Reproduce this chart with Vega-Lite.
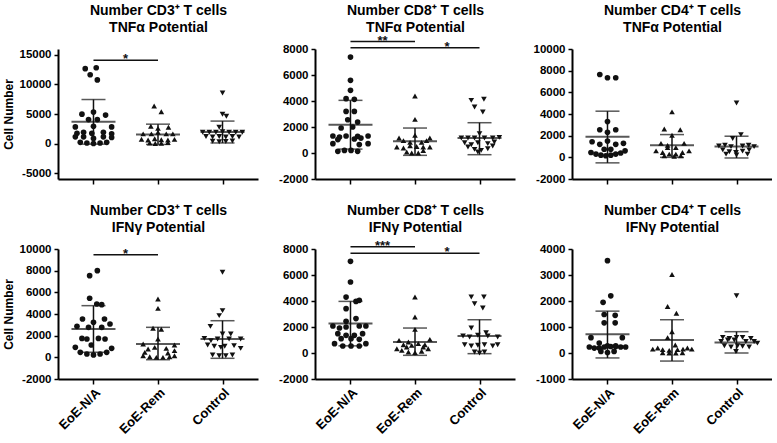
{
"$schema": "https://vega.github.io/schema/vega-lite/v6.json",
"background": "white",
"padding": {"left": 2, "top": 3, "right": 0, "bottom": 0},
"columns": 3,
"spacing": {"row": 70, "column": 57},
"bounds": "flush",
"datasets": {
"points": [
{"panel":1,"group":"EoE-N/A","value":12670,"slot":-1.5},{"panel":1,"group":"EoE-N/A","value":12820,"slot":0.5},{"panel":1,"group":"EoE-N/A","value":11640,"slot":-0.6},{"panel":1,"group":"EoE-N/A","value":10770,"slot":0.7},{"panel":1,"group":"EoE-N/A","value":4970,"slot":-2.1},{"panel":1,"group":"EoE-N/A","value":5330,"slot":0},{"panel":1,"group":"EoE-N/A","value":4820,"slot":2.2},{"panel":1,"group":"EoE-N/A","value":4050,"slot":-0.9},{"panel":1,"group":"EoE-N/A","value":4050,"slot":0.7},{"panel":1,"group":"EoE-N/A","value":2820,"slot":-3.3},{"panel":1,"group":"EoE-N/A","value":2920,"slot":0},{"panel":1,"group":"EoE-N/A","value":2820,"slot":3.3},{"panel":1,"group":"EoE-N/A","value":1740,"slot":-3},{"panel":1,"group":"EoE-N/A","value":1900,"slot":-1.8},{"panel":1,"group":"EoE-N/A","value":1740,"slot":-0.3},{"panel":1,"group":"EoE-N/A","value":1900,"slot":1.8},{"panel":1,"group":"EoE-N/A","value":1640,"slot":3.3},{"panel":1,"group":"EoE-N/A","value":1130,"slot":-3.3},{"panel":1,"group":"EoE-N/A","value":1130,"slot":-1.8},{"panel":1,"group":"EoE-N/A","value":870,"slot":0},{"panel":1,"group":"EoE-N/A","value":1130,"slot":1.8},{"panel":1,"group":"EoE-N/A","value":1030,"slot":3.3},{"panel":1,"group":"EoE-N/A","value":200,"slot":-2.4},{"panel":1,"group":"EoE-N/A","value":100,"slot":-1.2},{"panel":1,"group":"EoE-N/A","value":0,"slot":0},{"panel":1,"group":"EoE-N/A","value":100,"slot":1.2},{"panel":1,"group":"EoE-N/A","value":200,"slot":2.4},
{"panel":1,"group":"EoE-Rem","value":6360,"slot":-0.7},{"panel":1,"group":"EoE-Rem","value":5380,"slot":0.6},{"panel":1,"group":"EoE-Rem","value":2920,"slot":-1.3},{"panel":1,"group":"EoE-Rem","value":2770,"slot":1.9},{"panel":1,"group":"EoE-Rem","value":2560,"slot":0},{"panel":1,"group":"EoE-Rem","value":1640,"slot":-2.7},{"panel":1,"group":"EoE-Rem","value":1640,"slot":-1.2},{"panel":1,"group":"EoE-Rem","value":1900,"slot":0},{"panel":1,"group":"EoE-Rem","value":1640,"slot":1.5},{"panel":1,"group":"EoE-Rem","value":1640,"slot":2.7},{"panel":1,"group":"EoE-Rem","value":720,"slot":-3},{"panel":1,"group":"EoE-Rem","value":600,"slot":-1.8},{"panel":1,"group":"EoE-Rem","value":800,"slot":-0.6},{"panel":1,"group":"EoE-Rem","value":650,"slot":0.6},{"panel":1,"group":"EoE-Rem","value":600,"slot":1.8},{"panel":1,"group":"EoE-Rem","value":700,"slot":3},{"panel":1,"group":"EoE-Rem","value":100,"slot":-1.5},{"panel":1,"group":"EoE-Rem","value":0,"slot":-0.5},{"panel":1,"group":"EoE-Rem","value":50,"slot":0.6},{"panel":1,"group":"EoE-Rem","value":150,"slot":1.8},
{"panel":1,"group":"Control","value":8560,"slot":0},{"panel":1,"group":"Control","value":4970,"slot":0},{"panel":1,"group":"Control","value":4620,"slot":0.7},{"panel":1,"group":"Control","value":2770,"slot":-0.6},{"panel":1,"group":"Control","value":1900,"slot":-3.6},{"panel":1,"group":"Control","value":1900,"slot":-2.4},{"panel":1,"group":"Control","value":1900,"slot":-1.2},{"panel":1,"group":"Control","value":2000,"slot":0},{"panel":1,"group":"Control","value":1900,"slot":1.2},{"panel":1,"group":"Control","value":1900,"slot":2.4},{"panel":1,"group":"Control","value":1900,"slot":3.6},{"panel":1,"group":"Control","value":1200,"slot":-3},{"panel":1,"group":"Control","value":1100,"slot":-1.8},{"panel":1,"group":"Control","value":1200,"slot":-0.6},{"panel":1,"group":"Control","value":1100,"slot":0.6},{"panel":1,"group":"Control","value":1200,"slot":1.8},{"panel":1,"group":"Control","value":1100,"slot":3},{"panel":1,"group":"Control","value":400,"slot":-1.8},{"panel":1,"group":"Control","value":300,"slot":-0.6},{"panel":1,"group":"Control","value":350,"slot":0.6},{"panel":1,"group":"Control","value":420,"slot":1.8},

{"panel":2,"group":"EoE-N/A","value":7380,"slot":0},{"panel":2,"group":"EoE-N/A","value":5590,"slot":0},{"panel":2,"group":"EoE-N/A","value":4820,"slot":0},{"panel":2,"group":"EoE-N/A","value":4180,"slot":-0.8},{"panel":2,"group":"EoE-N/A","value":4130,"slot":0.7},{"panel":2,"group":"EoE-N/A","value":3200,"slot":-0.8},{"panel":2,"group":"EoE-N/A","value":3200,"slot":0.7},{"panel":2,"group":"EoE-N/A","value":2560,"slot":-0.5},{"panel":2,"group":"EoE-N/A","value":2380,"slot":1.3},{"panel":2,"group":"EoE-N/A","value":1920,"slot":-1.7},{"panel":2,"group":"EoE-N/A","value":2000,"slot":0.4},{"panel":2,"group":"EoE-N/A","value":1310,"slot":-3.2},{"panel":2,"group":"EoE-N/A","value":1230,"slot":-2},{"panel":2,"group":"EoE-N/A","value":1310,"slot":-0.8},{"panel":2,"group":"EoE-N/A","value":1280,"slot":1.3},{"panel":2,"group":"EoE-N/A","value":1310,"slot":3.2},{"panel":2,"group":"EoE-N/A","value":1030,"slot":-2.3},{"panel":2,"group":"EoE-N/A","value":1080,"slot":0.7},{"panel":2,"group":"EoE-N/A","value":1150,"slot":1.9},{"panel":2,"group":"EoE-N/A","value":720,"slot":-3.2},{"panel":2,"group":"EoE-N/A","value":650,"slot":1.6},{"panel":2,"group":"EoE-N/A","value":720,"slot":3.2},{"panel":2,"group":"EoE-N/A","value":130,"slot":-2.3},{"panel":2,"group":"EoE-N/A","value":200,"slot":-1.1},{"panel":2,"group":"EoE-N/A","value":200,"slot":0.1},{"panel":2,"group":"EoE-N/A","value":130,"slot":1.3},
{"panel":2,"group":"EoE-Rem","value":4380,"slot":0},{"panel":2,"group":"EoE-Rem","value":2590,"slot":0},{"panel":2,"group":"EoE-Rem","value":1360,"slot":0},{"panel":2,"group":"EoE-Rem","value":1150,"slot":-2.9},{"panel":2,"group":"EoE-Rem","value":1150,"slot":2.7},{"panel":2,"group":"EoE-Rem","value":950,"slot":-2.1},{"panel":2,"group":"EoE-Rem","value":820,"slot":-0.9},{"panel":2,"group":"EoE-Rem","value":820,"slot":1.2},{"panel":2,"group":"EoE-Rem","value":950,"slot":2.1},{"panel":2,"group":"EoE-Rem","value":460,"slot":-3.3},{"panel":2,"group":"EoE-Rem","value":380,"slot":-2.1},{"panel":2,"group":"EoE-Rem","value":560,"slot":-0.9},{"panel":2,"group":"EoE-Rem","value":500,"slot":0.3},{"panel":2,"group":"EoE-Rem","value":460,"slot":1.5},{"panel":2,"group":"EoE-Rem","value":460,"slot":2.7},{"panel":2,"group":"EoE-Rem","value":80,"slot":-1.5},{"panel":2,"group":"EoE-Rem","value":0,"slot":-0.6},{"panel":2,"group":"EoE-Rem","value":0,"slot":0.6},{"panel":2,"group":"EoE-Rem","value":180,"slot":1.5},
{"panel":2,"group":"Control","value":4050,"slot":-1.5},{"panel":2,"group":"Control","value":4130,"slot":0.8},{"panel":2,"group":"Control","value":3540,"slot":-0.9},{"panel":2,"group":"Control","value":3150,"slot":0.6},{"panel":2,"group":"Control","value":1490,"slot":0},{"panel":2,"group":"Control","value":1150,"slot":-3.3},{"panel":2,"group":"Control","value":1150,"slot":-2.1},{"panel":2,"group":"Control","value":1150,"slot":-0.9},{"panel":2,"group":"Control","value":1150,"slot":0.9},{"panel":2,"group":"Control","value":1150,"slot":2.4},{"panel":2,"group":"Control","value":1200,"slot":3.6},{"panel":2,"group":"Control","value":790,"slot":-2.7},{"panel":2,"group":"Control","value":640,"slot":-1.5},{"panel":2,"group":"Control","value":790,"slot":-0.3},{"panel":2,"group":"Control","value":720,"slot":1.5},{"panel":2,"group":"Control","value":850,"slot":2.7},{"panel":2,"group":"Control","value":460,"slot":-2.1},{"panel":2,"group":"Control","value":280,"slot":-0.9},{"panel":2,"group":"Control","value":200,"slot":0.3},{"panel":2,"group":"Control","value":330,"slot":1.5},{"panel":2,"group":"Control","value":540,"slot":2.4},{"panel":2,"group":"Control","value":80,"slot":-0.3},

{"panel":3,"group":"EoE-N/A","value":7650,"slot":-1.4},{"panel":3,"group":"EoE-N/A","value":7350,"slot":0},{"panel":3,"group":"EoE-N/A","value":7350,"slot":1.5},{"panel":3,"group":"EoE-N/A","value":3300,"slot":0},{"panel":3,"group":"EoE-N/A","value":2550,"slot":-1.4},{"panel":3,"group":"EoE-N/A","value":2310,"slot":0},{"panel":3,"group":"EoE-N/A","value":2550,"slot":1.5},{"panel":3,"group":"EoE-N/A","value":1440,"slot":-2.8},{"panel":3,"group":"EoE-N/A","value":1200,"slot":-1.4},{"panel":3,"group":"EoE-N/A","value":1500,"slot":0},{"panel":3,"group":"EoE-N/A","value":1200,"slot":1.5},{"panel":3,"group":"EoE-N/A","value":1290,"slot":2.9},{"panel":3,"group":"EoE-N/A","value":750,"slot":-0.6},{"panel":3,"group":"EoE-N/A","value":750,"slot":0.6},{"panel":3,"group":"EoE-N/A","value":450,"slot":-3},{"panel":3,"group":"EoE-N/A","value":300,"slot":-2.1},{"panel":3,"group":"EoE-N/A","value":200,"slot":-1.2},{"panel":3,"group":"EoE-N/A","value":150,"slot":-0.3},{"panel":3,"group":"EoE-N/A","value":200,"slot":0.6},{"panel":3,"group":"EoE-N/A","value":300,"slot":1.5},{"panel":3,"group":"EoE-N/A","value":400,"slot":2.4},{"panel":3,"group":"EoE-N/A","value":600,"slot":3.2},
{"panel":3,"group":"EoE-Rem","value":4200,"slot":0},{"panel":3,"group":"EoE-Rem","value":2610,"slot":-1.4},{"panel":3,"group":"EoE-Rem","value":2550,"slot":1.5},{"panel":3,"group":"EoE-Rem","value":2040,"slot":0},{"panel":3,"group":"EoE-Rem","value":1290,"slot":-2},{"panel":3,"group":"EoE-Rem","value":1100,"slot":-0.8},{"panel":3,"group":"EoE-Rem","value":1290,"slot":2.2},{"panel":3,"group":"EoE-Rem","value":600,"slot":-2.9},{"panel":3,"group":"EoE-Rem","value":450,"slot":-1.7},{"panel":3,"group":"EoE-Rem","value":300,"slot":-0.5},{"panel":3,"group":"EoE-Rem","value":300,"slot":0.7},{"panel":3,"group":"EoE-Rem","value":450,"slot":1.9},{"panel":3,"group":"EoE-Rem","value":600,"slot":3.1},{"panel":3,"group":"EoE-Rem","value":900,"slot":-0.8},{"panel":3,"group":"EoE-Rem","value":900,"slot":0.7},{"panel":3,"group":"EoE-Rem","value":150,"slot":-1.4},{"panel":3,"group":"EoE-Rem","value":90,"slot":0.4},{"panel":3,"group":"EoE-Rem","value":150,"slot":1.6},
{"panel":3,"group":"Control","value":5010,"slot":0},{"panel":3,"group":"Control","value":2100,"slot":0.8},{"panel":3,"group":"Control","value":1740,"slot":-0.7},{"panel":3,"group":"Control","value":1050,"slot":-3.2},{"panel":3,"group":"Control","value":1110,"slot":-2.1},{"panel":3,"group":"Control","value":990,"slot":-1},{"panel":3,"group":"Control","value":1050,"slot":1.1},{"panel":3,"group":"Control","value":1110,"slot":2.2},{"panel":3,"group":"Control","value":990,"slot":3.2},{"panel":3,"group":"Control","value":690,"slot":-2.5},{"panel":3,"group":"Control","value":510,"slot":-1.3},{"panel":3,"group":"Control","value":450,"slot":-0.1},{"panel":3,"group":"Control","value":570,"slot":1.1},{"panel":3,"group":"Control","value":690,"slot":2.3},{"panel":3,"group":"Control","value":210,"slot":0},{"panel":3,"group":"Control","value":300,"slot":-1.9},{"panel":3,"group":"Control","value":300,"slot":2},

{"panel":4,"group":"EoE-N/A","value":7540,"slot":-0.7},{"panel":4,"group":"EoE-N/A","value":8000,"slot":0.7},{"panel":4,"group":"EoE-N/A","value":5450,"slot":-0.7},{"panel":4,"group":"EoE-N/A","value":4920,"slot":0.6},{"panel":4,"group":"EoE-N/A","value":4860,"slot":1.5},{"panel":4,"group":"EoE-N/A","value":3540,"slot":-2},{"panel":4,"group":"EoE-N/A","value":3230,"slot":0},{"panel":4,"group":"EoE-N/A","value":3540,"slot":2},{"panel":4,"group":"EoE-N/A","value":2860,"slot":-3},{"panel":4,"group":"EoE-N/A","value":2770,"slot":-0.9},{"panel":4,"group":"EoE-N/A","value":2770,"slot":1.5},{"panel":4,"group":"EoE-N/A","value":3080,"slot":3},{"panel":4,"group":"EoE-N/A","value":1750,"slot":-2.1},{"panel":4,"group":"EoE-N/A","value":1690,"slot":-1.2},{"panel":4,"group":"EoE-N/A","value":1750,"slot":0.9},{"panel":4,"group":"EoE-N/A","value":1690,"slot":2.1},{"panel":4,"group":"EoE-N/A","value":920,"slot":-3.3},{"panel":4,"group":"EoE-N/A","value":1140,"slot":-0.4},{"panel":4,"group":"EoE-N/A","value":830,"slot":3.3},{"panel":4,"group":"EoE-N/A","value":460,"slot":-2.4},{"panel":4,"group":"EoE-N/A","value":310,"slot":-1.2},{"panel":4,"group":"EoE-N/A","value":220,"slot":0},{"panel":4,"group":"EoE-N/A","value":310,"slot":1.2},{"panel":4,"group":"EoE-N/A","value":460,"slot":2.4},
{"panel":4,"group":"EoE-Rem","value":5390,"slot":0},{"panel":4,"group":"EoE-Rem","value":4520,"slot":0},{"panel":4,"group":"EoE-Rem","value":2680,"slot":-0.9},{"panel":4,"group":"EoE-Rem","value":2590,"slot":0.6},{"panel":4,"group":"EoE-Rem","value":1690,"slot":0},{"panel":4,"group":"EoE-Rem","value":1230,"slot":-2.7},{"panel":4,"group":"EoE-Rem","value":1140,"slot":3},{"panel":4,"group":"EoE-Rem","value":770,"slot":-1.8},{"panel":4,"group":"EoE-Rem","value":920,"slot":-0.6},{"panel":4,"group":"EoE-Rem","value":830,"slot":1.5},{"panel":4,"group":"EoE-Rem","value":620,"slot":3},{"panel":4,"group":"EoE-Rem","value":460,"slot":-2.4},{"panel":4,"group":"EoE-Rem","value":400,"slot":1.8},{"panel":4,"group":"EoE-Rem","value":150,"slot":-2.7},{"panel":4,"group":"EoE-Rem","value":50,"slot":-1.5},{"panel":4,"group":"EoE-Rem","value":0,"slot":-0.3},{"panel":4,"group":"EoE-Rem","value":0,"slot":0.9},{"panel":4,"group":"EoE-Rem","value":50,"slot":2.1},{"panel":4,"group":"EoE-Rem","value":150,"slot":3},
{"panel":4,"group":"Control","value":7850,"slot":0},{"panel":4,"group":"Control","value":4310,"slot":0},{"panel":4,"group":"Control","value":3850,"slot":-0.6},{"panel":4,"group":"Control","value":2860,"slot":-2.2},{"panel":4,"group":"Control","value":2150,"slot":1.5},{"panel":4,"group":"Control","value":2150,"slot":0},{"panel":4,"group":"Control","value":1750,"slot":-3.3},{"panel":4,"group":"Control","value":1540,"slot":-2.1},{"panel":4,"group":"Control","value":1690,"slot":-0.9},{"panel":4,"group":"Control","value":1690,"slot":1.2},{"panel":4,"group":"Control","value":1690,"slot":3.3},{"panel":4,"group":"Control","value":1140,"slot":-2.7},{"panel":4,"group":"Control","value":1020,"slot":-1.5},{"panel":4,"group":"Control","value":920,"slot":-0.3},{"panel":4,"group":"Control","value":1020,"slot":0.4},{"panel":4,"group":"Control","value":1080,"slot":2.1},{"panel":4,"group":"Control","value":830,"slot":3.3},{"panel":4,"group":"Control","value":215,"slot":-1.8},{"panel":4,"group":"Control","value":150,"slot":-0.6},{"panel":4,"group":"Control","value":150,"slot":0.6},{"panel":4,"group":"Control","value":215,"slot":1.8},

{"panel":5,"group":"EoE-N/A","value":7050,"slot":0},{"panel":5,"group":"EoE-N/A","value":5460,"slot":0},{"panel":5,"group":"EoE-N/A","value":4300,"slot":-0.8},{"panel":5,"group":"EoE-N/A","value":3970,"slot":1},{"panel":5,"group":"EoE-N/A","value":4050,"slot":1.6},{"panel":5,"group":"EoE-N/A","value":3410,"slot":-0.8},{"panel":5,"group":"EoE-N/A","value":2440,"slot":-0.8},{"panel":5,"group":"EoE-N/A","value":2650,"slot":1},{"panel":5,"group":"EoE-N/A","value":2080,"slot":-3.2},{"panel":5,"group":"EoE-N/A","value":1920,"slot":-2},{"panel":5,"group":"EoE-N/A","value":2000,"slot":-0.8},{"panel":5,"group":"EoE-N/A","value":2080,"slot":1.6},{"panel":5,"group":"EoE-N/A","value":2080,"slot":2.8},{"panel":5,"group":"EoE-N/A","value":1490,"slot":-2.3},{"panel":5,"group":"EoE-N/A","value":1360,"slot":-0.8},{"panel":5,"group":"EoE-N/A","value":1360,"slot":0.7},{"panel":5,"group":"EoE-N/A","value":1490,"slot":2.2},{"panel":5,"group":"EoE-N/A","value":1100,"slot":-1.7},{"panel":5,"group":"EoE-N/A","value":1100,"slot":0.1},{"panel":5,"group":"EoE-N/A","value":1050,"slot":1.6},{"panel":5,"group":"EoE-N/A","value":720,"slot":-2.9},{"panel":5,"group":"EoE-N/A","value":540,"slot":-1.4},{"panel":5,"group":"EoE-N/A","value":540,"slot":0.1},{"panel":5,"group":"EoE-N/A","value":540,"slot":1.6},{"panel":5,"group":"EoE-N/A","value":720,"slot":2.8},
{"panel":5,"group":"EoE-Rem","value":4310,"slot":0},{"panel":5,"group":"EoE-Rem","value":2770,"slot":0},{"panel":5,"group":"EoE-Rem","value":1820,"slot":0},{"panel":5,"group":"EoE-Rem","value":970,"slot":-2.9},{"panel":5,"group":"EoE-Rem","value":850,"slot":-1.2},{"panel":5,"group":"EoE-Rem","value":1050,"slot":2.7},{"panel":5,"group":"EoE-Rem","value":640,"slot":-2.1},{"panel":5,"group":"EoE-Rem","value":590,"slot":-0.6},{"panel":5,"group":"EoE-Rem","value":720,"slot":0.6},{"panel":5,"group":"EoE-Rem","value":640,"slot":1.8},{"panel":5,"group":"EoE-Rem","value":330,"slot":-3.3},{"panel":5,"group":"EoE-Rem","value":200,"slot":-2.4},{"panel":5,"group":"EoE-Rem","value":80,"slot":-1.2},{"panel":5,"group":"EoE-Rem","value":30,"slot":0},{"panel":5,"group":"EoE-Rem","value":130,"slot":1.2},{"panel":5,"group":"EoE-Rem","value":330,"slot":2.4},{"panel":5,"group":"EoE-Rem","value":460,"slot":-1.5},{"panel":5,"group":"EoE-Rem","value":460,"slot":1.5},
{"panel":5,"group":"Control","value":4310,"slot":-1.5},{"panel":5,"group":"Control","value":4310,"slot":0.8},{"panel":5,"group":"Control","value":3790,"slot":-0.9},{"panel":5,"group":"Control","value":3460,"slot":0.6},{"panel":5,"group":"Control","value":1920,"slot":-1.5},{"panel":5,"group":"Control","value":1560,"slot":1.2},{"panel":5,"group":"Control","value":1310,"slot":-3},{"panel":5,"group":"Control","value":1230,"slot":-1.8},{"panel":5,"group":"Control","value":1360,"slot":-0.3},{"panel":5,"group":"Control","value":1310,"slot":1.5},{"panel":5,"group":"Control","value":1230,"slot":3.3},{"panel":5,"group":"Control","value":640,"slot":-2.7},{"panel":5,"group":"Control","value":540,"slot":-1.5},{"panel":5,"group":"Control","value":600,"slot":-0.3},{"panel":5,"group":"Control","value":640,"slot":0.9},{"panel":5,"group":"Control","value":540,"slot":2.4},{"panel":5,"group":"Control","value":640,"slot":3.3},{"panel":5,"group":"Control","value":80,"slot":-0.9},{"panel":5,"group":"Control","value":0,"slot":0},{"panel":5,"group":"Control","value":80,"slot":0.9},

{"panel":6,"group":"EoE-N/A","value":3550,"slot":0},{"panel":6,"group":"EoE-N/A","value":2200,"slot":0.6},{"panel":6,"group":"EoE-N/A","value":1950,"slot":-0.8},{"panel":6,"group":"EoE-N/A","value":1480,"slot":-0.6},{"panel":6,"group":"EoE-N/A","value":1450,"slot":1.4},{"panel":6,"group":"EoE-N/A","value":1160,"slot":-0.6},{"panel":6,"group":"EoE-N/A","value":1160,"slot":1.4},{"panel":6,"group":"EoE-N/A","value":590,"slot":-3},{"panel":6,"group":"EoE-N/A","value":590,"slot":2.7},{"panel":6,"group":"EoE-N/A","value":380,"slot":-1.5},{"panel":6,"group":"EoE-N/A","value":280,"slot":0},{"panel":6,"group":"EoE-N/A","value":250,"slot":1.5},{"panel":6,"group":"EoE-N/A","value":230,"slot":-3.3},{"panel":6,"group":"EoE-N/A","value":190,"slot":-2.4},{"panel":6,"group":"EoE-N/A","value":190,"slot":-1.5},{"panel":6,"group":"EoE-N/A","value":230,"slot":-0.6},{"panel":6,"group":"EoE-N/A","value":250,"slot":0.6},{"panel":6,"group":"EoE-N/A","value":280,"slot":1.5},{"panel":6,"group":"EoE-N/A","value":230,"slot":2.4},{"panel":6,"group":"EoE-N/A","value":230,"slot":3.3},{"panel":6,"group":"EoE-N/A","value":60,"slot":-1.2},{"panel":6,"group":"EoE-N/A","value":20,"slot":0},{"panel":6,"group":"EoE-N/A","value":60,"slot":1.2},
{"panel":6,"group":"EoE-Rem","value":3020,"slot":0},{"panel":6,"group":"EoE-Rem","value":1790,"slot":-0.8},{"panel":6,"group":"EoE-Rem","value":1530,"slot":0.8},{"panel":6,"group":"EoE-Rem","value":820,"slot":0},{"panel":6,"group":"EoE-Rem","value":590,"slot":-0.8},{"panel":6,"group":"EoE-Rem","value":310,"slot":0.6},{"panel":6,"group":"EoE-Rem","value":150,"slot":-3.5},{"panel":6,"group":"EoE-Rem","value":190,"slot":-2.6},{"panel":6,"group":"EoE-Rem","value":130,"slot":-1.7},{"panel":6,"group":"EoE-Rem","value":100,"slot":-0.5},{"panel":6,"group":"EoE-Rem","value":130,"slot":1},{"panel":6,"group":"EoE-Rem","value":150,"slot":2},{"panel":6,"group":"EoE-Rem","value":190,"slot":2.8},{"panel":6,"group":"EoE-Rem","value":150,"slot":3.6},{"panel":6,"group":"EoE-Rem","value":10,"slot":-1.7},{"panel":6,"group":"EoE-Rem","value":0,"slot":-0.5},{"panel":6,"group":"EoE-Rem","value":0,"slot":0.7},{"panel":6,"group":"EoE-Rem","value":10,"slot":1.9},
{"panel":6,"group":"Control","value":2200,"slot":0},{"panel":6,"group":"Control","value":600,"slot":-2.5},{"panel":6,"group":"Control","value":560,"slot":-1.3},{"panel":6,"group":"Control","value":600,"slot":0},{"panel":6,"group":"Control","value":600,"slot":1.1},{"panel":6,"group":"Control","value":560,"slot":2.6},{"panel":6,"group":"Control","value":440,"slot":-2.8},{"panel":6,"group":"Control","value":500,"slot":-1.6},{"panel":6,"group":"Control","value":500,"slot":-0.4},{"panel":6,"group":"Control","value":440,"slot":1.7},{"panel":6,"group":"Control","value":440,"slot":3.2},{"panel":6,"group":"Control","value":380,"slot":3.8},{"panel":6,"group":"Control","value":280,"slot":-2.2},{"panel":6,"group":"Control","value":230,"slot":-1},{"panel":6,"group":"Control","value":280,"slot":0.2},{"panel":6,"group":"Control","value":260,"slot":1.1},{"panel":6,"group":"Control","value":230,"slot":2.3},{"panel":6,"group":"Control","value":60,"slot":-0.1}
],
"summary": [
{"panel":1,"group":"EoE-N/A","mean":3700,"lo":-100,"hi":7450},{"panel":1,"group":"EoE-Rem","mean":1550,"lo":-150,"hi":3280},{"panel":1,"group":"Control","mean":1950,"lo":100,"hi":3800},
{"panel":2,"group":"EoE-N/A","mean":2170,"lo":300,"hi":4050},{"panel":2,"group":"EoE-Rem","mean":900,"lo":-180,"hi":1920},{"panel":2,"group":"Control","mean":1150,"lo":-130,"hi":2330},
{"panel":3,"group":"EoE-N/A","mean":1890,"lo":-510,"hi":4260},{"panel":3,"group":"EoE-Rem","mean":1110,"lo":0,"hi":2100},{"panel":3,"group":"Control","mean":990,"lo":-60,"hi":1950},
{"panel":4,"group":"EoE-N/A","mean":2620,"lo":470,"hi":4770},{"panel":4,"group":"EoE-Rem","mean":1230,"lo":-220,"hi":2770},{"panel":4,"group":"Control","mean":1690,"lo":-90,"hi":3380},
{"panel":5,"group":"EoE-N/A","mean":2260,"lo":550,"hi":3970},{"panel":5,"group":"EoE-Rem","mean":850,"lo":-180,"hi":1920},{"panel":5,"group":"Control","mean":1310,"lo":-50,"hi":2560},
{"panel":6,"group":"EoE-N/A","mean":720,"lo":-190,"hi":1610},{"panel":6,"group":"EoE-Rem","mean":500,"lo":-310,"hi":1280},{"panel":6,"group":"Control","mean":400,"lo":0,"hi":820}
],
"sig": [
{"panel":1,"from":"EoE-N/A","to":"EoE-Rem","at":"EoE-N/A","y":14080,"label":"*"},
{"panel":2,"from":"EoE-N/A","to":"EoE-Rem","at":"EoE-N/A","y":8570,"label":"**"},
{"panel":2,"from":"EoE-N/A","to":"Control","at":"EoE-Rem","y":8100,"label":"*"},
{"panel":4,"from":"EoE-N/A","to":"EoE-Rem","at":"EoE-N/A","y":9475,"label":"*"},
{"panel":5,"from":"EoE-N/A","to":"EoE-Rem","at":"EoE-N/A","y":8180,"label":"***"},
{"panel":5,"from":"EoE-N/A","to":"Control","at":"EoE-Rem","y":7670,"label":"*"}
]
},
"concat": [
{"width":200,"height":130,"resolve":{"axis":{"x":"independent","y":"independent"}},
"layer":[
{"data":{"name":"points"},"transform":[{"filter":"datum.panel == 1"}],"mark":{"type":"point","filled":true,"size":32,"opacity":1,"color":"#111"},
"encoding":{"x":{"field":"group","type":"nominal","title":null,"scale":{"type":"point","domain":["EoE-N/A","EoE-Rem","Control"],"padding":0.55},"axis":{"orient":"bottom","labels":false}},
"xOffset":{"field":"slot","type":"quantitative","scale":{"domain":[-6,6],"range":[-33,33]}},
"y":{"field":"value","type":"quantitative","title":"Cell Number","scale":{"domain":[-5000,15000]},"axis":{"orient":"left","values":[-5000,0,5000,10000,15000],"labelOverlap":false,"labelBound":false}},
"shape":{"field":"group","type":"nominal","scale":{"domain":["EoE-N/A","EoE-Rem","Control"],"range":["circle","triangle-up","triangle-down"]},"legend":null}}},
{"data":{"name":"summary"},"transform":[{"filter":"datum.panel == 1"}],"mark":{"type":"rule","color":"#111","strokeWidth":1.5},"encoding":{"x":{"field":"group","type":"nominal","axis":null},"y":{"field":"lo","type":"quantitative","axis":null},"y2":{"field":"hi"}}},
{"data":{"name":"summary"},"transform":[{"filter":"datum.panel == 1"}],"mark":{"type":"tick","color":"#111","size":44,"thickness":2},"encoding":{"x":{"field":"group","type":"nominal","axis":{"orient":"top","title":["Number CD3⁺ T cells","TNFα Potential"],"labels":false,"ticks":false,"domain":false}},"y":{"field":"mean","type":"quantitative","axis":null}}},
{"data":{"name":"summary"},"transform":[{"filter":"datum.panel == 1"}],"mark":{"type":"tick","color":"#111","size":24,"thickness":1.5},"encoding":{"x":{"field":"group","type":"nominal","axis":null},"y":{"field":"lo","type":"quantitative","axis":null}}},
{"data":{"name":"summary"},"transform":[{"filter":"datum.panel == 1"}],"mark":{"type":"tick","color":"#111","size":24,"thickness":1.5},"encoding":{"x":{"field":"group","type":"nominal","axis":null},"y":{"field":"hi","type":"quantitative","axis":null}}},
{"data":{"name":"sig"},"transform":[{"filter":"datum.panel == 1"}],"mark":{"type":"rule","color":"#111","strokeWidth":1.5},"encoding":{"x":{"field":"from","type":"nominal","axis":null},"x2":{"field":"to"},"y":{"field":"y","type":"quantitative","axis":null}}},
{"data":{"name":"sig"},"transform":[{"filter":"datum.panel == 1"}],"mark":{"type":"text","color":"#111","dx":32,"dy":-1,"baseline":"middle","fontSize":13,"fontWeight":"bold"},"encoding":{"x":{"field":"at","type":"nominal","axis":null},"y":{"field":"y","type":"quantitative","axis":null},"text":{"field":"label"}}}
]},
{"width":200,"height":130,"resolve":{"axis":{"x":"independent","y":"independent"}},
"layer":[
{"data":{"name":"points"},"transform":[{"filter":"datum.panel == 2"}],"mark":{"type":"point","filled":true,"size":32,"opacity":1,"color":"#111"},
"encoding":{"x":{"field":"group","type":"nominal","title":null,"scale":{"type":"point","domain":["EoE-N/A","EoE-Rem","Control"],"padding":0.55},"axis":{"orient":"bottom","labels":false}},
"xOffset":{"field":"slot","type":"quantitative","scale":{"domain":[-6,6],"range":[-33,33]}},
"y":{"field":"value","type":"quantitative","title":null,"scale":{"domain":[-2000,8000]},"axis":{"orient":"left","values":[-2000,0,2000,4000,6000,8000],"labelOverlap":false,"labelBound":false}},
"shape":{"field":"group","type":"nominal","scale":{"domain":["EoE-N/A","EoE-Rem","Control"],"range":["circle","triangle-up","triangle-down"]},"legend":null}}},
{"data":{"name":"summary"},"transform":[{"filter":"datum.panel == 2"}],"mark":{"type":"rule","color":"#111","strokeWidth":1.5},"encoding":{"x":{"field":"group","type":"nominal","axis":null},"y":{"field":"lo","type":"quantitative","axis":null},"y2":{"field":"hi"}}},
{"data":{"name":"summary"},"transform":[{"filter":"datum.panel == 2"}],"mark":{"type":"tick","color":"#111","size":44,"thickness":2},"encoding":{"x":{"field":"group","type":"nominal","axis":{"orient":"top","title":["Number CD8⁺ T cells","TNFα Potential"],"labels":false,"ticks":false,"domain":false}},"y":{"field":"mean","type":"quantitative","axis":null}}},
{"data":{"name":"summary"},"transform":[{"filter":"datum.panel == 2"}],"mark":{"type":"tick","color":"#111","size":24,"thickness":1.5},"encoding":{"x":{"field":"group","type":"nominal","axis":null},"y":{"field":"lo","type":"quantitative","axis":null}}},
{"data":{"name":"summary"},"transform":[{"filter":"datum.panel == 2"}],"mark":{"type":"tick","color":"#111","size":24,"thickness":1.5},"encoding":{"x":{"field":"group","type":"nominal","axis":null},"y":{"field":"hi","type":"quantitative","axis":null}}},
{"data":{"name":"sig"},"transform":[{"filter":"datum.panel == 2"}],"mark":{"type":"rule","color":"#111","strokeWidth":1.5},"encoding":{"x":{"field":"from","type":"nominal","axis":null},"x2":{"field":"to"},"y":{"field":"y","type":"quantitative","axis":null}}},
{"data":{"name":"sig"},"transform":[{"filter":"datum.panel == 2"}],"mark":{"type":"text","color":"#111","dx":32,"dy":-1,"baseline":"middle","fontSize":13,"fontWeight":"bold"},"encoding":{"x":{"field":"at","type":"nominal","axis":null},"y":{"field":"y","type":"quantitative","axis":null},"text":{"field":"label"}}}
]},
{"width":200,"height":130,"resolve":{"axis":{"x":"independent","y":"independent"}},
"layer":[
{"data":{"name":"points"},"transform":[{"filter":"datum.panel == 3"}],"mark":{"type":"point","filled":true,"size":32,"opacity":1,"color":"#111"},
"encoding":{"x":{"field":"group","type":"nominal","title":null,"scale":{"type":"point","domain":["EoE-N/A","EoE-Rem","Control"],"padding":0.55},"axis":{"orient":"bottom","labels":false}},
"xOffset":{"field":"slot","type":"quantitative","scale":{"domain":[-6,6],"range":[-33,33]}},
"y":{"field":"value","type":"quantitative","title":null,"scale":{"domain":[-2000,10000]},"axis":{"orient":"left","values":[-2000,0,2000,4000,6000,8000,10000],"labelOverlap":false,"labelBound":false}},
"shape":{"field":"group","type":"nominal","scale":{"domain":["EoE-N/A","EoE-Rem","Control"],"range":["circle","triangle-up","triangle-down"]},"legend":null}}},
{"data":{"name":"summary"},"transform":[{"filter":"datum.panel == 3"}],"mark":{"type":"rule","color":"#111","strokeWidth":1.5},"encoding":{"x":{"field":"group","type":"nominal","axis":null},"y":{"field":"lo","type":"quantitative","axis":null},"y2":{"field":"hi"}}},
{"data":{"name":"summary"},"transform":[{"filter":"datum.panel == 3"}],"mark":{"type":"tick","color":"#111","size":44,"thickness":2},"encoding":{"x":{"field":"group","type":"nominal","axis":{"orient":"top","title":["Number CD4⁺ T cells","TNFα Potential"],"labels":false,"ticks":false,"domain":false}},"y":{"field":"mean","type":"quantitative","axis":null}}},
{"data":{"name":"summary"},"transform":[{"filter":"datum.panel == 3"}],"mark":{"type":"tick","color":"#111","size":24,"thickness":1.5},"encoding":{"x":{"field":"group","type":"nominal","axis":null},"y":{"field":"lo","type":"quantitative","axis":null}}},
{"data":{"name":"summary"},"transform":[{"filter":"datum.panel == 3"}],"mark":{"type":"tick","color":"#111","size":24,"thickness":1.5},"encoding":{"x":{"field":"group","type":"nominal","axis":null},"y":{"field":"hi","type":"quantitative","axis":null}}}
]},
{"width":200,"height":130,"resolve":{"axis":{"x":"independent","y":"independent"}},
"layer":[
{"data":{"name":"points"},"transform":[{"filter":"datum.panel == 4"}],"mark":{"type":"point","filled":true,"size":32,"opacity":1,"color":"#111"},
"encoding":{"x":{"field":"group","type":"nominal","title":null,"scale":{"type":"point","domain":["EoE-N/A","EoE-Rem","Control"],"padding":0.55},"axis":{"orient":"bottom","labelAngle":-45,"labelFontSize":13,"labelPadding":2}},
"xOffset":{"field":"slot","type":"quantitative","scale":{"domain":[-6,6],"range":[-33,33]}},
"y":{"field":"value","type":"quantitative","title":"Cell Number","scale":{"domain":[-2000,10000]},"axis":{"orient":"left","values":[-2000,0,2000,4000,6000,8000,10000],"labelOverlap":false,"labelBound":false}},
"shape":{"field":"group","type":"nominal","scale":{"domain":["EoE-N/A","EoE-Rem","Control"],"range":["circle","triangle-up","triangle-down"]},"legend":null}}},
{"data":{"name":"summary"},"transform":[{"filter":"datum.panel == 4"}],"mark":{"type":"rule","color":"#111","strokeWidth":1.5},"encoding":{"x":{"field":"group","type":"nominal","axis":null},"y":{"field":"lo","type":"quantitative","axis":null},"y2":{"field":"hi"}}},
{"data":{"name":"summary"},"transform":[{"filter":"datum.panel == 4"}],"mark":{"type":"tick","color":"#111","size":44,"thickness":2},"encoding":{"x":{"field":"group","type":"nominal","axis":{"orient":"top","title":["Number CD3⁺ T cells","IFNγ Potential"],"labels":false,"ticks":false,"domain":false}},"y":{"field":"mean","type":"quantitative","axis":null}}},
{"data":{"name":"summary"},"transform":[{"filter":"datum.panel == 4"}],"mark":{"type":"tick","color":"#111","size":24,"thickness":1.5},"encoding":{"x":{"field":"group","type":"nominal","axis":null},"y":{"field":"lo","type":"quantitative","axis":null}}},
{"data":{"name":"summary"},"transform":[{"filter":"datum.panel == 4"}],"mark":{"type":"tick","color":"#111","size":24,"thickness":1.5},"encoding":{"x":{"field":"group","type":"nominal","axis":null},"y":{"field":"hi","type":"quantitative","axis":null}}},
{"data":{"name":"sig"},"transform":[{"filter":"datum.panel == 4"}],"mark":{"type":"rule","color":"#111","strokeWidth":1.5},"encoding":{"x":{"field":"from","type":"nominal","axis":null},"x2":{"field":"to"},"y":{"field":"y","type":"quantitative","axis":null}}},
{"data":{"name":"sig"},"transform":[{"filter":"datum.panel == 4"}],"mark":{"type":"text","color":"#111","dx":32,"dy":-1,"baseline":"middle","fontSize":13,"fontWeight":"bold"},"encoding":{"x":{"field":"at","type":"nominal","axis":null},"y":{"field":"y","type":"quantitative","axis":null},"text":{"field":"label"}}}
]},
{"width":200,"height":130,"resolve":{"axis":{"x":"independent","y":"independent"}},
"layer":[
{"data":{"name":"points"},"transform":[{"filter":"datum.panel == 5"}],"mark":{"type":"point","filled":true,"size":32,"opacity":1,"color":"#111"},
"encoding":{"x":{"field":"group","type":"nominal","title":null,"scale":{"type":"point","domain":["EoE-N/A","EoE-Rem","Control"],"padding":0.55},"axis":{"orient":"bottom","labelAngle":-45,"labelFontSize":13,"labelPadding":2}},
"xOffset":{"field":"slot","type":"quantitative","scale":{"domain":[-6,6],"range":[-33,33]}},
"y":{"field":"value","type":"quantitative","title":null,"scale":{"domain":[-2000,8000]},"axis":{"orient":"left","values":[-2000,0,2000,4000,6000,8000],"labelOverlap":false,"labelBound":false}},
"shape":{"field":"group","type":"nominal","scale":{"domain":["EoE-N/A","EoE-Rem","Control"],"range":["circle","triangle-up","triangle-down"]},"legend":null}}},
{"data":{"name":"summary"},"transform":[{"filter":"datum.panel == 5"}],"mark":{"type":"rule","color":"#111","strokeWidth":1.5},"encoding":{"x":{"field":"group","type":"nominal","axis":null},"y":{"field":"lo","type":"quantitative","axis":null},"y2":{"field":"hi"}}},
{"data":{"name":"summary"},"transform":[{"filter":"datum.panel == 5"}],"mark":{"type":"tick","color":"#111","size":44,"thickness":2},"encoding":{"x":{"field":"group","type":"nominal","axis":{"orient":"top","title":["Number CD8⁺ T cells","IFNγ Potential"],"labels":false,"ticks":false,"domain":false}},"y":{"field":"mean","type":"quantitative","axis":null}}},
{"data":{"name":"summary"},"transform":[{"filter":"datum.panel == 5"}],"mark":{"type":"tick","color":"#111","size":24,"thickness":1.5},"encoding":{"x":{"field":"group","type":"nominal","axis":null},"y":{"field":"lo","type":"quantitative","axis":null}}},
{"data":{"name":"summary"},"transform":[{"filter":"datum.panel == 5"}],"mark":{"type":"tick","color":"#111","size":24,"thickness":1.5},"encoding":{"x":{"field":"group","type":"nominal","axis":null},"y":{"field":"hi","type":"quantitative","axis":null}}},
{"data":{"name":"sig"},"transform":[{"filter":"datum.panel == 5"}],"mark":{"type":"rule","color":"#111","strokeWidth":1.5},"encoding":{"x":{"field":"from","type":"nominal","axis":null},"x2":{"field":"to"},"y":{"field":"y","type":"quantitative","axis":null}}},
{"data":{"name":"sig"},"transform":[{"filter":"datum.panel == 5"}],"mark":{"type":"text","color":"#111","dx":32,"dy":-1,"baseline":"middle","fontSize":13,"fontWeight":"bold"},"encoding":{"x":{"field":"at","type":"nominal","axis":null},"y":{"field":"y","type":"quantitative","axis":null},"text":{"field":"label"}}}
]},
{"width":200,"height":130,"resolve":{"axis":{"x":"independent","y":"independent"}},
"layer":[
{"data":{"name":"points"},"transform":[{"filter":"datum.panel == 6"}],"mark":{"type":"point","filled":true,"size":32,"opacity":1,"color":"#111"},
"encoding":{"x":{"field":"group","type":"nominal","title":null,"scale":{"type":"point","domain":["EoE-N/A","EoE-Rem","Control"],"padding":0.55},"axis":{"orient":"bottom","labelAngle":-45,"labelFontSize":13,"labelPadding":2}},
"xOffset":{"field":"slot","type":"quantitative","scale":{"domain":[-6,6],"range":[-33,33]}},
"y":{"field":"value","type":"quantitative","title":null,"scale":{"domain":[-1000,4000]},"axis":{"orient":"left","values":[-1000,0,1000,2000,3000,4000],"labelOverlap":false,"labelBound":false}},
"shape":{"field":"group","type":"nominal","scale":{"domain":["EoE-N/A","EoE-Rem","Control"],"range":["circle","triangle-up","triangle-down"]},"legend":null}}},
{"data":{"name":"summary"},"transform":[{"filter":"datum.panel == 6"}],"mark":{"type":"rule","color":"#111","strokeWidth":1.5},"encoding":{"x":{"field":"group","type":"nominal","axis":null},"y":{"field":"lo","type":"quantitative","axis":null},"y2":{"field":"hi"}}},
{"data":{"name":"summary"},"transform":[{"filter":"datum.panel == 6"}],"mark":{"type":"tick","color":"#111","size":44,"thickness":2},"encoding":{"x":{"field":"group","type":"nominal","axis":{"orient":"top","title":["Number CD4⁺ T cells","IFNγ Potential"],"labels":false,"ticks":false,"domain":false}},"y":{"field":"mean","type":"quantitative","axis":null}}},
{"data":{"name":"summary"},"transform":[{"filter":"datum.panel == 6"}],"mark":{"type":"tick","color":"#111","size":24,"thickness":1.5},"encoding":{"x":{"field":"group","type":"nominal","axis":null},"y":{"field":"lo","type":"quantitative","axis":null}}},
{"data":{"name":"summary"},"transform":[{"filter":"datum.panel == 6"}],"mark":{"type":"tick","color":"#111","size":24,"thickness":1.5},"encoding":{"x":{"field":"group","type":"nominal","axis":null},"y":{"field":"hi","type":"quantitative","axis":null}}}
]}
],
"config": {
"font": "Liberation Sans",
"view": {"stroke": null},
"axis": {"domainColor":"#000","domainWidth":2,"tickColor":"#000","tickWidth":1.5,"tickSize":4,"labelFontWeight":"bold","labelFontSize":11.5,"labelColor":"#000","labelPadding":3,"labelFlush":false,"grid":false,"titleFontWeight":"bold","titleFontSize":12,"titleColor":"#000","titlePadding":4},
"axisY": {"labelExpr":"replace(replace(datum.label, ',', ''), '−', '-')"},
"axisX": {"tickSize":5},
"axisTop": {"titleFontSize":14,"titleLineHeight":17,"titlePadding":15}
}
}
